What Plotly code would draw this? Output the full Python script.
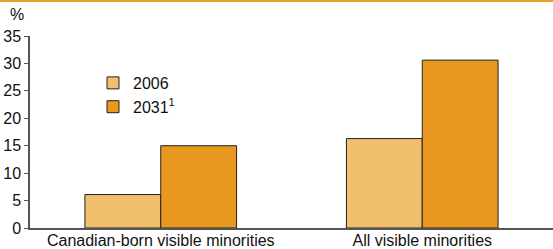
import plotly.graph_objects as go

categories = ["Canadian-born visible minorities", "All visible minorities"]
series_names = ["2006", "2031<sup>1</sup>"]
values_2006 = [6.1, 16.3]
values_2031 = [15.0, 30.6]
y_ticks = [0, 5, 10, 15, 20, 25, 30, 35]

W, H = 553, 249
ml, mr, mt, mb = 30, 0, 36, 21
pw, ph = W - ml - mr, H - mt - mb

fig = go.Figure()
fig.add_trace(go.Bar(x=categories, y=values_2006, name=series_names[0],
                     marker=dict(color="#F0BF6E", line=dict(color="#222222", width=1))))
fig.add_trace(go.Bar(x=categories, y=values_2031, name=series_names[1],
                     marker=dict(color="#E8981E", line=dict(color="#222222", width=1))))

font = "Liberation Sans Narrow, Arial Narrow, Liberation Sans, Arial, sans-serif"
fig.update_layout(
    width=W, height=H,
    margin=dict(l=ml, r=mr, t=mt, b=mb, autoexpand=False),
    plot_bgcolor="white", paper_bgcolor="white",
    barmode="group", bargap=0.42, bargroupgap=0,
    font=dict(family=font, size=16, color="#111111"),
    showlegend=True,
    legend=dict(x=(93 - ml) / pw, y=(228 - 66) / ph, xanchor="left", yanchor="top",
                bgcolor="rgba(0,0,0,0)", font=dict(size=16), itemwidth=30,
                tracegroupgap=1, traceorder="normal"),
    xaxis=dict(showline=True, linecolor="#555555", linewidth=1.5, ticks="",
               tickfont=dict(size=16), range=[-0.5, 1.5], automargin=False,
               ticklabelstandoff=-3),
    yaxis=dict(range=[0, 35], tickvals=y_ticks, showgrid=False, zeroline=False,
               showline=True, linecolor="#555555", linewidth=1.5,
               ticks="outside", ticklen=4, tickcolor="#555555",
               tickfont=dict(size=16), automargin=False),
    shapes=[dict(type="line", xref="paper", yref="paper",
                 x0=-ml / pw, x1=1, y0=(H - mb - 1) / ph, y1=(H - mb - 1) / ph,
                 line=dict(color="#E8A030", width=2))],
    annotations=[dict(text="%", xref="paper", yref="paper", x=-(ml - 8) / pw,
                      y=(H - mb - 4) / ph, xanchor="left", yanchor="top",
                      showarrow=False, font=dict(size=16))],
)
fig.write_html("out.html", config={"displayModeBar": False},
               post_script="document.body.style.margin='0';")
